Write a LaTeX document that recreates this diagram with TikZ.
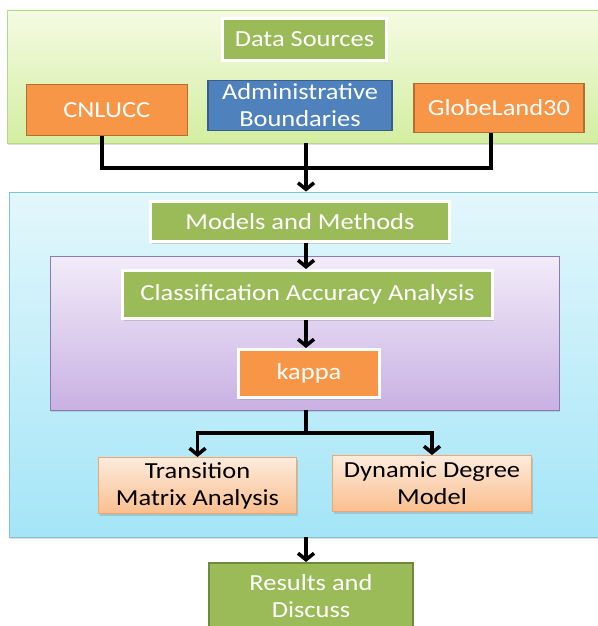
\documentclass[tikz,border=0pt]{standalone}
\usepackage{fontspec}
\setmainfont{Carlito}[FakeStretch=1.15]
\usetikzlibrary{arrows.meta,shadows}
\definecolor{gpanelT}{HTML}{F5FBE3}
\definecolor{gpanelB}{HTML}{D3EEA0}
\definecolor{gpanelD}{HTML}{B9D98A}
\definecolor{bpanelT}{HTML}{E3F7FC}
\definecolor{bpanelB}{HTML}{A4E5F7}
\definecolor{bpanelD}{HTML}{7FC3D6}
\definecolor{ppanelT}{HTML}{F2ECF9}
\definecolor{ppanelB}{HTML}{C9B1E3}
\definecolor{ppanelD}{HTML}{8C7BB3}
\definecolor{ogreen}{HTML}{9BBB59}
\definecolor{ogreenD}{HTML}{71893F}
\definecolor{oorange}{HTML}{F79646}
\definecolor{oorangeD}{HTML}{B66D31}
\definecolor{oblue}{HTML}{4F81BD}
\definecolor{oblueD}{HTML}{385D8A}
\definecolor{lorT}{HTML}{FDEBDC}
\definecolor{lorB}{HTML}{FABF8F}
\definecolor{lorD}{HTML}{F2A66B}
\tikzset{
  panel/.style={rectangle, inner sep=0pt, line width=0.8pt,
    drop shadow={shadow xshift=1pt, shadow yshift=-2pt, opacity=0.25}},
  box/.style={rectangle, inner sep=0pt, align=center,
    font=\fontsize{23}{27}\selectfont, text=white},
  wbox/.style={box, fill=ogreen, draw=white, line width=3pt,
    drop shadow={shadow xshift=1.5pt, shadow yshift=-2pt, opacity=0.3}},
  obox/.style={box, fill=oorange, draw=oorangeD, line width=1.5pt},
  lbox/.style={box, text=black, top color=lorT, bottom color=lorB, draw=lorD, line width=1pt,
    drop shadow={shadow xshift=1.5pt, shadow yshift=-2pt, opacity=0.3}},
  thk/.style={line width=3.5pt, black},
  arr/.style={thk, -{Straight Barb[length=6.5pt,width=16pt]}}
}
\begin{document}
\begin{tikzpicture}[x=1pt,y=-1pt]
\useasboundingbox (0,0) rectangle (597,626);
% panels
\node[panel, top color=gpanelT, bottom color=gpanelB, draw=gpanelD,
  minimum width=600pt, minimum height=133pt] (dsp) at (307,76.5) {};
\node[panel, top color=bpanelT, bottom color=bpanelB, draw=bpanelD,
  minimum width=600pt, minimum height=345pt] (mmp) at (309,364.5) {};
\node[panel, top color=ppanelT, bottom color=ppanelB, draw=ppanelD,
  minimum width=509pt, minimum height=154pt] (pp) at (304.5,333) {};
% boxes
\node[wbox, minimum width=164pt, minimum height=42pt] (ds) at (304.5,39.5) {Data Sources};
\node[obox, minimum width=161pt, minimum height=51pt] (cn) at (106.75,110) {CNLUCC};
\node[box, fill=oblue, draw=oblueD, line width=1.5pt, minimum width=184pt, minimum height=50pt] (ad) at (300,105.5) {Administrative\\Boundaries};
\node[obox, minimum width=170pt, minimum height=49pt] (gl) at (499,108) {GlobeLand30};
\node[wbox, minimum width=299pt, minimum height=40pt] (mm) at (300,221.5) {Models and Methods};
\node[wbox, minimum width=370pt, minimum height=48pt] (cl) at (307.5,294.5) {Classification Accuracy Analysis};
\node[wbox, fill=oorange, minimum width=141pt, minimum height=48pt] (kp) at (309,373.5) {kappa};
\node[lbox, minimum width=198pt, minimum height=56pt] (tr) at (197.5,485.5) {Transition\\Matrix Analysis};
\node[lbox, minimum width=199pt, minimum height=56pt] (dm) at (432,483.5) {Dynamic Degree\\Model};
\node[box, fill=ogreen, draw=ogreenD, line width=2pt, minimum width=204pt, minimum height=66pt] (rs) at (311,596) {Results and\\Discuss};
% connectors
\coordinate (sx) at (306,0);
\coordinate (cx) at (102,0);
\coordinate (gx) at (491,0);
\coordinate (j) at (306,168);
\coordinate (k) at (306,433);
\draw[thk] (cx |- cn.south) |- (j);
\draw[thk] (gx |- gl.south) |- (j);
\draw[thk] (sx |- dsp.south) -- (j);
\draw[arr] (j) -- (j |- mmp.north);
\draw[arr] (sx |- mm.south) -- (sx |- cl.north);
\draw[arr] (sx |- cl.south) -- (sx |- kp.north);
\draw[thk] (sx |- pp.south) -- (k);
\draw[arr] (k) -| (tr.north);
\draw[arr] (k) -| (dm.north);
\draw[arr] (sx |- mmp.south) -- (sx |- rs.north);
\end{tikzpicture}
\end{document}
